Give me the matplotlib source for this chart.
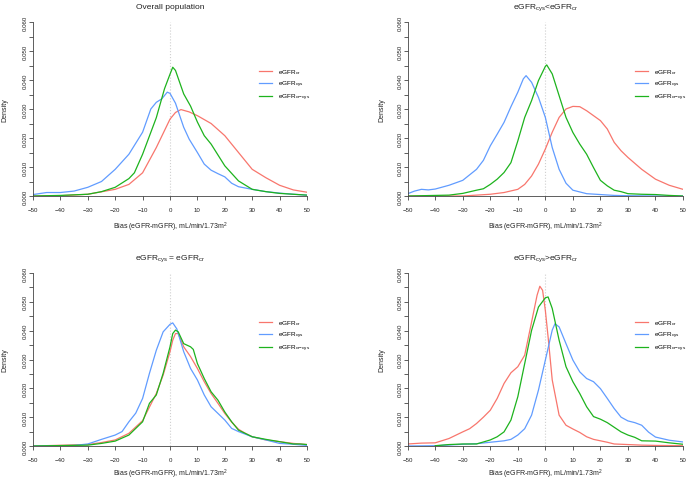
import matplotlib.pyplot as plt
from matplotlib.ticker import MultipleLocator, FormatStrFormatter

plt.rcParams['font.family'] = ['Liberation Sans', 'DejaVu Sans']
plt.rcParams['mathtext.fontset'] = 'custom'
plt.rcParams['mathtext.rm'] = 'Liberation Sans'
plt.rcParams['mathtext.it'] = 'Liberation Sans:italic'

RED, BLUE, GREEN = '#F8766D', '#619CFF', '#1DB31D'

titles = ['Overall population',
          r'eGFR$_{\rm cys}$<eGFR$_{\rm cr}$',
          r'eGFR$_{\rm cys}$ = eGFR$_{\rm cr}$',
          r'eGFR$_{\rm cys}$>eGFR$_{\rm cr}$']
series_labels = [r'eGFR$_{\rm cr}$', r'eGFR$_{\rm cys}$', r'eGFR$_{\rm cr\!-\!cys}$']
x_label = r'Bias (eGFR-mGFR), mL/min/1.73m$^2$'

# --- overall population ---
overall_cr_x = [-50, -40, -30, -20, -15, -10, -5, 0, 2, 4, 7, 10, 15, 20, 25, 30, 35, 40, 45, 50]
overall_cr_y = [0.0, 0.0001, 0.0006, 0.0023, 0.0040, 0.0080, 0.0167, 0.0265, 0.0288, 0.0298, 0.0290,
                0.0277, 0.0250, 0.0208, 0.0150, 0.0092, 0.0063, 0.0037, 0.0021, 0.0013]
overall_cys_x = [-50, -45, -40, -35, -30, -25, -20, -15, -10, -7, -5, -3, -1, 0, 2, 5, 7, 10,
                 12.5, 15, 17.5, 20, 22.5, 25, 30, 35, 40, 45, 50]
overall_cys_y = [0.0005, 0.0012, 0.0012, 0.0017, 0.0030, 0.0050, 0.0092, 0.0144, 0.0220, 0.0300,
                 0.0323, 0.0335, 0.0358, 0.0354, 0.0320, 0.0237, 0.0196, 0.0150, 0.0110, 0.0089,
                 0.0077, 0.0066, 0.0044, 0.0032, 0.0023, 0.0015, 0.0010, 0.0006, 0.0003]
overall_crcys_x = [-50, -40, -30, -25, -20, -15, -13, -10, -5, -2, 0, 1, 2, 5, 7.5, 10, 12.5, 15,
                   20, 25, 30, 35, 40, 45, 50]
overall_crcys_y = [0.0, 0.0002, 0.0006, 0.0015, 0.0030, 0.0060, 0.0080, 0.0144, 0.0270, 0.0370,
                   0.0420, 0.0444, 0.0433, 0.0352, 0.0310, 0.0255, 0.0208, 0.0179, 0.0104, 0.0052,
                   0.0023, 0.0015, 0.0009, 0.0006, 0.0003]

# --- eGFRcys < eGFRcr ---
lower_cr_x = [-50, -30, -20, -15, -10, -7.5, -5, -2.5, 0, 2.5, 5, 7.5, 10, 12.5, 15, 17.5, 20,
              22.5, 25, 27.5, 30, 35, 40, 45, 50]
lower_cr_y = [0.0, 0.0, 0.0006, 0.0012, 0.0023, 0.0040, 0.0069, 0.0110, 0.0162, 0.0220, 0.0271,
              0.0300, 0.0309, 0.0308, 0.0294, 0.0277, 0.0260, 0.0231, 0.0185, 0.0156, 0.0133,
              0.0092, 0.0058, 0.0037, 0.0023]
lower_cys_x = [-50, -47.5, -45, -42.5, -40, -35, -30, -25, -22.5, -20, -17.5, -15, -12.5, -10, -8,
               -7, -5, -2.5, 0, 2.5, 5, 7.5, 10, 15, 20, 25, 30, 40, 50]
lower_cys_y = [0.0008, 0.0017, 0.0023, 0.0021, 0.0024, 0.0037, 0.0054, 0.0092, 0.0123, 0.0173,
               0.0213, 0.0254, 0.0308, 0.0358, 0.0404, 0.0415, 0.0392, 0.0340, 0.0271, 0.0167,
               0.0092, 0.0044, 0.0020, 0.0008, 0.0005, 0.0002, 0.0001, 0.0, 0.0]
lower_crcys_x = [-50, -40, -35, -30, -25, -22.5, -20, -17.5, -15, -12.5, -10, -7.5, -5, -2.5, 0,
                 0.5, 2.5, 5, 7.5, 10, 12.5, 15, 17.5, 20, 22.5, 25, 27.5, 30, 35, 40, 45, 50]
lower_crcys_y = [0.0, 0.0002, 0.0003, 0.0009, 0.0020, 0.0025, 0.0040, 0.0058, 0.0081, 0.0115,
                 0.0190, 0.0271, 0.0329, 0.0398, 0.0447, 0.0452, 0.0421, 0.0346, 0.0271, 0.0219,
                 0.0179, 0.0144, 0.0098, 0.0054, 0.0035, 0.0020, 0.0015, 0.0008, 0.0006, 0.0005,
                 0.0002, 0.0]

# --- eGFRcys = eGFRcr ---
equal_cr_x = [-50, -30, -25, -20, -15, -10, -5, -2.5, 0, 1, 2, 3, 5, 7.5, 10, 12.5, 15, 17.5, 20,
              22.5, 25, 27.5, 30, 35, 40, 45, 50]
equal_cr_y = [0.0, 0.0005, 0.0012, 0.0021, 0.0044, 0.0088, 0.0182, 0.0246, 0.0327, 0.0367, 0.0390,
              0.0390, 0.0344, 0.0310, 0.0269, 0.0223, 0.0182, 0.0148, 0.0113, 0.0083, 0.0058,
              0.0044, 0.0032, 0.0021, 0.0015, 0.0009, 0.0005]
equal_cys_x = [-50, -40, -35, -30, -25, -20, -17.5, -15, -12.5, -10, -7.5, -5, -2.5, 0, 1, 2.5, 5,
               7.5, 10, 12.5, 15, 17.5, 20, 22.5, 25, 30, 35, 40, 45, 50]
equal_cys_y = [0.0, 0.0001, 0.0002, 0.0007, 0.0023, 0.0038, 0.0050, 0.0084, 0.0114, 0.0165,
               0.0252, 0.0332, 0.0396, 0.0422, 0.0427, 0.0406, 0.0327, 0.0269, 0.0229, 0.0177,
               0.0136, 0.0113, 0.0090, 0.0061, 0.0050, 0.0032, 0.0021, 0.0009, 0.0006, 0.0002]
equal_crcys_x = [-50, -30, -25, -20, -15, -12.5, -10, -7.5, -5, -2.5, 0, 1, 2, 3, 5, 7.5, 8.5, 10,
                 12.5, 15, 17.5, 20, 22.5, 25, 30, 35, 40, 45, 47.5, 50]
equal_crcys_y = [0.0, 0.0003, 0.0009, 0.0017, 0.0038, 0.0061, 0.0084, 0.0148, 0.0177, 0.0252,
                 0.0344, 0.0390, 0.0402, 0.0396, 0.0355, 0.0344, 0.0335, 0.0286, 0.0234, 0.0188,
                 0.0159, 0.0118, 0.0084, 0.0055, 0.0032, 0.0023, 0.0015, 0.0007, 0.0007, 0.0005]

# --- eGFRcys > eGFRcr ---
higher_cr_x = [-50, -45, -40, -35, -30, -27.5, -25, -22.5, -20, -17.5, -15, -12.5, -10, -7.5, -5,
               -3, -2, -1, 0, 1, 2.5, 5, 7.5, 10, 12.5, 15, 17.5, 20, 22.5, 25, 30, 35, 40, 50]
higher_cr_y = [0.0007, 0.0010, 0.0011, 0.0026, 0.0049, 0.0060, 0.0078, 0.0100, 0.0124, 0.0165,
               0.0217, 0.0254, 0.0275, 0.0315, 0.0430, 0.0523, 0.0554, 0.0540, 0.0470, 0.0378,
               0.0229, 0.0107, 0.0072, 0.0059, 0.0047, 0.0032, 0.0023, 0.0018, 0.0013, 0.0007,
               0.0005, 0.0003, 0.0002, 0.0001]
higher_cys_x = [-50, -40, -30, -25, -20, -15, -12.5, -10, -7.5, -5, -2.5, 0, 2.5, 3.5, 5, 7.5, 10,
                12.5, 15, 17.5, 20, 22.5, 25, 27.5, 30, 32.5, 35, 37.5, 40, 45, 50]
higher_cys_y = [0.0, 0.0001, 0.0006, 0.0008, 0.0013, 0.0018, 0.0023, 0.0038, 0.0060, 0.0107,
                0.0194, 0.0298, 0.0402, 0.0424, 0.0413, 0.0355, 0.0298, 0.0257, 0.0234, 0.0223,
                0.0199, 0.0165, 0.0130, 0.0100, 0.0087, 0.0081, 0.0072, 0.0048, 0.0031, 0.0020,
                0.0014]
higher_crcys_x = [-40, -35, -30, -25, -20, -17.5, -15, -12.5, -10, -7.5, -5, -2.5, 0, 1, 2.5, 5,
                  7.5, 10, 12.5, 15, 17.5, 20, 22.5, 25, 27.5, 30, 32.5, 35, 40, 45, 50]
higher_crcys_y = [0.0001, 0.0005, 0.0007, 0.0007, 0.0021, 0.0032, 0.0049, 0.0090, 0.0171, 0.0286,
                  0.0401, 0.0482, 0.0514, 0.0517, 0.0477, 0.0367, 0.0275, 0.0223, 0.0182, 0.0136,
                  0.0102, 0.0093, 0.0081, 0.0065, 0.0049, 0.0038, 0.0030, 0.0018, 0.0017, 0.0011,
                  0.0006]

panels = [
    [(overall_cr_x, overall_cr_y), (overall_cys_x, overall_cys_y), (overall_crcys_x, overall_crcys_y)],
    [(lower_cr_x, lower_cr_y), (lower_cys_x, lower_cys_y), (lower_crcys_x, lower_crcys_y)],
    [(equal_cr_x, equal_cr_y), (equal_cys_x, equal_cys_y), (equal_crcys_x, equal_crcys_y)],
    [(higher_cr_x, higher_cr_y), (higher_cys_x, higher_cys_y), (higher_crcys_x, higher_crcys_y)],
]

W, H = 689, 481
# axes boxes in pixels: left, top, width, height
boxes = [(33, 23, 274, 174), (407.7, 23, 275.3, 174), (33, 274, 274, 173), (407.7, 274, 275.3, 173)]
ylab_x = [-0.091, -0.082, -0.091, -0.082]
xlab_y = [-0.135, -0.135, -0.122, -0.122]

fig = plt.figure(figsize=(W / 100, H / 100), dpi=100)
for i, (l, t, w, h) in enumerate(boxes):
    ax = fig.add_axes([l / W, 1 - (t + h) / H, w / W, h / H])
    ax.axvline(0, color='#cfcfcf', ls=':', lw=0.8, zorder=0)
    for (x, y), c, lab in zip(panels[i], [RED, BLUE, GREEN], series_labels):
        ax.plot(x, y, color=c, lw=0.9, label=lab, solid_joinstyle='round')
    ax.set_xlim(-50, 50)
    ax.set_ylim(0, 0.06)
    ax.set_xticks(range(-50, 51, 10))
    ax.yaxis.set_major_locator(MultipleLocator(0.01))
    ax.yaxis.set_minor_locator(MultipleLocator(0.005))
    ax.yaxis.set_major_formatter(FormatStrFormatter('%.3f'))
    for s in ['top', 'right']:
        ax.spines[s].set_visible(False)
    for s in ['left', 'bottom']:
        ax.spines[s].set_linewidth(0.6)
        ax.spines[s].set_color('#444444')
    ax.tick_params(which='both', length=2.9, width=0.6, color='#444444', labelsize=4.4,
                   labelcolor='#222222')
    ax.tick_params(axis='x', pad=5.0)
    ax.tick_params(axis='y', pad=1.0, labelrotation=90)
    for lbl in ax.get_yticklabels():
        lbl.set_va('center')
    ax.set_title(titles[i], fontsize=6, pad=10, color='#222222')
    ax.set_xlabel(x_label, fontsize=5, color='#222222')
    ax.xaxis.set_label_coords(0.5, xlab_y[i])
    ax.set_ylabel('Density', fontsize=5, color='#222222')
    ax.yaxis.set_label_coords(ylab_x[i], 0.5)
    ax.legend(loc='upper left', bbox_to_anchor=(0.826, 0.74), frameon=False, fontsize=4.6,
              handlelength=2.0, handletextpad=1.0, labelspacing=0.45, borderpad=0,
              borderaxespad=0)

fig.savefig('out.png', dpi=100)
